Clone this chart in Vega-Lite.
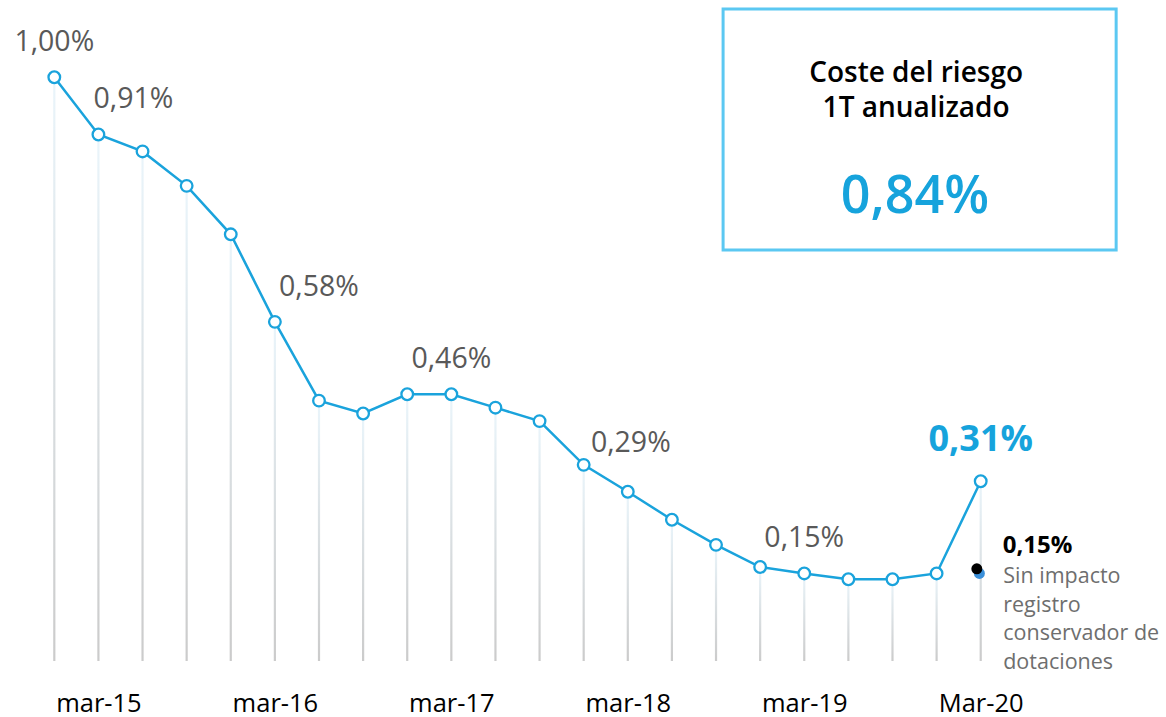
{
  "$schema": "https://vega.github.io/schema/vega-lite/v6.json",
  "width": 1166,
  "height": 661,
  "autosize": "none",
  "padding": {"left": 0, "top": 0, "right": 0, "bottom": 56},
  "background": "white",
  "config": {"font": "Open Sans", "view": {"stroke": null}},
  "datasets": {
    "series": [
      {"i": 0, "v": 1.000, "label": "1,00%"},
      {"i": 1, "v": 0.902, "label": "0,91%"},
      {"i": 2, "v": 0.873},
      {"i": 3, "v": 0.814},
      {"i": 4, "v": 0.731},
      {"i": 5, "v": 0.581, "label": "0,58%"},
      {"i": 6, "v": 0.446},
      {"i": 7, "v": 0.424},
      {"i": 8, "v": 0.457},
      {"i": 9, "v": 0.457, "label": "0,46%"},
      {"i": 10, "v": 0.434},
      {"i": 11, "v": 0.411},
      {"i": 12, "v": 0.336},
      {"i": 13, "v": 0.290, "label": "0,29%"},
      {"i": 14, "v": 0.242},
      {"i": 15, "v": 0.199},
      {"i": 16, "v": 0.161},
      {"i": 17, "v": 0.150, "label": "0,15%"},
      {"i": 18, "v": 0.140},
      {"i": 19, "v": 0.140},
      {"i": 20, "v": 0.150},
      {"i": 21, "v": 0.308, "label": "0,31%"}
    ],
    "dots": [
      {"i": 20.97, "v": 0.150, "kind": "blue"},
      {"i": 20.912, "v": 0.158, "kind": "black"}
    ],
    "box": [
      {"i": 15.16, "i2": 24.07, "v": 1.117, "v2": 0.7041}
    ],
    "notes": [
      {"i": 19.535, "v": 0.9925, "kind": "title", "text": "Coste del riesgo\n1T anualizado"},
      {"i": 19.51, "v": 0.7675, "kind": "big", "text": "0,84%"},
      {"i": 21.50, "v": 0.185, "kind": "noteval", "text": "0,15%"},
      {"i": 21.51, "v": 0.1336, "kind": "notetext", "text": "Sin impacto\nregistro\nconservador de\ndotaciones"}
    ]
  },
  "encoding": {
    "x": {
      "field": "i",
      "type": "quantitative",
      "scale": {"domain": [-1.231, 25.2], "nice": false, "zero": false, "padding": 0},
      "axis": {
        "values": [1, 5, 9, 13, 17, 21],
        "labelExpr": "['mar-15','mar-16','mar-17','mar-18','mar-19','Mar-20'][(datum.value-1)/4]",
        "title": null,
        "domain": false,
        "ticks": false,
        "tickSize": 0,
        "grid": false,
        "labelFont": "Open Sans",
        "labelFontSize": 25.5,
        "labelColor": "#000000",
        "labelBaseline": "alphabetic",
        "labelPadding": 50,
        "labelFlush": false,
        "labelOverlap": false
      }
    },
    "y": {
      "field": "v",
      "type": "quantitative",
      "scale": {"domain": [0, 1.1324], "nice": false, "zero": false, "padding": 0},
      "axis": null
    }
  },
  "layer": [
    {
      "data": {"name": "series"},
      "mark": {
        "type": "bar",
        "size": 2.2,
        "color": {
          "gradient": "linear",
          "x1": 0, "y1": 0, "x2": 0, "y2": 1,
          "stops": [
            {"offset": 0, "color": "#eaf5fb"},
            {"offset": 1, "color": "#cbcbcb"}
          ]
        }
      },
      "encoding": {"y2": {"datum": 0}}
    },
    {
      "data": {"name": "series"},
      "mark": {"type": "line", "color": "#1aa3dc", "strokeWidth": 2.5}
    },
    {
      "data": {"name": "series"},
      "mark": {"type": "point", "shape": "circle", "filled": true, "fill": "#ffffff", "stroke": "#1aa3dc", "strokeWidth": 2.3, "size": 135, "opacity": 1}
    },
    {
      "data": {"name": "series"},
      "transform": [{"filter": "datum.i == 0 || datum.i == 9 || datum.i == 17"}],
      "mark": {"type": "text", "dy": -26, "baseline": "alphabetic", "align": "center", "fontSize": 28.5, "color": "#595959"},
      "encoding": {"text": {"field": "label"}}
    },
    {
      "data": {"name": "series"},
      "transform": [{"filter": "datum.i == 1"}],
      "mark": {"type": "text", "dx": 35, "dy": -26, "baseline": "alphabetic", "align": "center", "fontSize": 28.5, "color": "#595959"},
      "encoding": {"text": {"field": "label"}}
    },
    {
      "data": {"name": "series"},
      "transform": [{"filter": "datum.i == 5"}],
      "mark": {"type": "text", "dx": 44, "dy": -26, "baseline": "alphabetic", "align": "center", "fontSize": 28.5, "color": "#595959"},
      "encoding": {"text": {"field": "label"}}
    },
    {
      "data": {"name": "series"},
      "transform": [{"filter": "datum.i == 13"}],
      "mark": {"type": "text", "dx": 3, "dy": -40, "baseline": "alphabetic", "align": "center", "fontSize": 28.5, "color": "#595959"},
      "encoding": {"text": {"field": "label"}}
    },
    {
      "data": {"name": "series"},
      "transform": [{"filter": "datum.i == 21"}],
      "mark": {"type": "text", "dy": -30, "baseline": "alphabetic", "align": "center", "fontSize": 36, "fontWeight": "bold", "color": "#16a3dc"},
      "encoding": {"text": {"field": "label"}}
    },
    {
      "data": {"name": "dots"},
      "mark": {"type": "circle", "size": 120, "opacity": 1},
      "encoding": {
        "color": {"field": "kind", "type": "nominal", "scale": {"domain": ["blue", "black"], "range": ["#3a8fd9", "#000000"]}, "legend": null}
      }
    },
    {
      "data": {"name": "box"},
      "mark": {"type": "rect", "fill": "#ffffff", "fillOpacity": 0, "stroke": "#5bc8f2", "strokeWidth": 3},
      "encoding": {"x2": {"field": "i2"}, "y2": {"field": "v2"}}
    },
    {
      "data": {"name": "notes"},
      "transform": [{"filter": "datum.kind == 'title'"}],
      "mark": {"type": "text", "align": "center", "baseline": "alphabetic", "fontSize": 28, "fontWeight": 600, "color": "#000000", "lineBreak": "\n", "lineHeight": 35},
      "encoding": {"text": {"field": "text"}}
    },
    {
      "data": {"name": "notes"},
      "transform": [{"filter": "datum.kind == 'big'"}],
      "mark": {"type": "text", "align": "center", "baseline": "alphabetic", "fontSize": 52, "fontWeight": 600, "color": "#16a3dc"},
      "encoding": {"text": {"field": "text"}}
    },
    {
      "data": {"name": "notes"},
      "transform": [{"filter": "datum.kind == 'noteval'"}],
      "mark": {"type": "text", "align": "left", "baseline": "alphabetic", "fontSize": 24, "fontWeight": "bold", "color": "#000000"},
      "encoding": {"text": {"field": "text"}}
    },
    {
      "data": {"name": "notes"},
      "transform": [{"filter": "datum.kind == 'notetext'"}],
      "mark": {"type": "text", "align": "left", "baseline": "alphabetic", "fontSize": 21.5, "color": "#6e6e6e", "lineBreak": "\n", "lineHeight": 28.7},
      "encoding": {"text": {"field": "text"}}
    }
  ]
}
